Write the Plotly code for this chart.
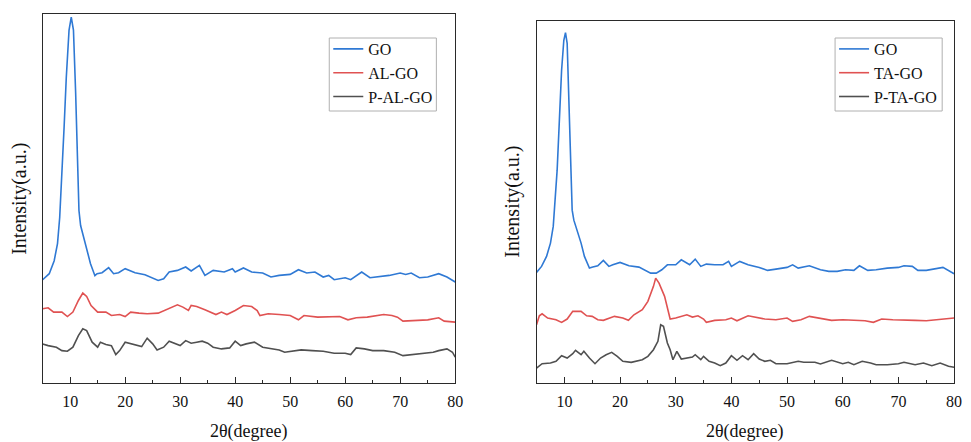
import plotly.graph_objects as go

# ---------------- Left panel (GO / AL-GO / P-AL-GO) ----------------
L_GO_x = [5, 6.2, 7.1, 7.7, 8.1, 8.5, 8.9, 9.3, 9.8, 10.2, 10.6, 11.0, 11.4, 11.6, 11.9, 12.5,
          13.1, 13.7, 14.5, 14.9, 15.8, 17.0, 17.9, 18.8, 20.0, 21.8, 23.6, 25.7, 26, 27, 28,
          29.5, 31, 32, 33.5, 34.5, 36, 38, 39.5, 40, 41.5, 43, 45, 46.5, 48, 50, 51.5, 53,
          54.5, 56, 57, 58, 60, 61, 63, 64.5, 66, 68, 70, 71, 72, 73.5, 75, 77, 78.5, 80]
L_GO_y = [103, 109, 122, 139, 165, 205, 255, 305, 352, 365, 352, 289, 222, 172, 157, 145,
          132, 119, 107, 109, 110, 115, 109, 110, 114, 110, 108, 103, 102.3, 104, 110.7,
          112.3, 115.7, 111.7, 117.3, 107.3, 112.3, 110.7, 114, 110.7, 114.7, 110.7, 109.7,
          105.7, 107.3, 108.3, 113, 109.7, 110.7, 105.7, 107.3, 103, 105, 103, 110.7, 105,
          105.7, 107.3, 109.7, 108.3, 109.7, 105, 105.7, 109, 105.7, 100.7]

L_AL_x = [5, 6, 7, 8.5, 9.5, 10.5, 11.5, 12.3, 13, 13.8, 15, 16.5, 17.5, 19, 20, 21, 22.5, 24,
          26, 28, 29.5, 30.5, 31.5, 32, 33, 34.5, 35.5, 36.5, 37.5, 38.5, 40, 41.5, 43, 44,
          44.5, 46, 48, 50, 51.5, 52.5, 55, 57.5, 59, 60.5, 62, 64, 66, 67, 68.5, 69.5, 70.5,
          72, 75, 77, 78, 80]
L_AL_y = [74, 75, 70.7, 70.7, 66.3, 70.7, 82.3, 89.7, 86.3, 77.3, 70.7, 70.7, 67.3, 68.3,
          66.3, 70.7, 69.7, 69, 69.7, 74, 78, 75.7, 72.3, 77.3, 76.3, 73, 70.7, 68.3, 70.7,
          68.3, 72.3, 77.3, 76.3, 72.3, 67.3, 69, 68.3, 67.3, 63, 67.3, 65.7, 65.7, 66.3, 63,
          65, 65.7, 67.3, 68.3, 67.3, 65.7, 61.7, 62.3, 63, 65, 61.7, 60.7]

L_PAL_x = [5, 6, 7.5, 8.5, 9.5, 10.5, 11.5, 12.3, 13, 14, 15, 15.5, 16.5, 17.5, 18.3, 19, 20,
           21, 22, 23, 24, 25, 25.8, 27, 28, 29, 30, 31, 32, 33, 34, 35, 36, 37.5, 39, 40, 41,
           42, 43.5, 45, 46.5, 48, 49, 50, 52, 54, 56, 58, 60, 61, 62, 63.5, 65, 67, 69, 70.5,
           72, 74, 76, 77, 78.5, 79.5, 80]
L_PAL_y = [39, 37.3, 35.7, 32.3, 31.7, 35.7, 47.3, 54, 52.3, 40.7, 35.7, 40.7, 38.3, 37.3,
           28.3, 32.3, 40.7, 39, 37.3, 36.3, 44.7, 39, 33, 35.7, 41.7, 39.7, 37.3, 42.3, 39.7,
           40.7, 41.7, 39.7, 35.7, 34, 35, 41.7, 37.3, 39, 40.7, 35.7, 34, 33, 30.7, 31.7, 33,
           32.3, 31.7, 29.7, 29.7, 28.3, 35, 34, 32.3, 32.3, 30.7, 27.3, 28.3, 29, 30.7, 32.3,
           34, 30.7, 25.7]

# ---------------- Right panel (GO / TA-GO / P-TA-GO) ----------------
R_GO_x = [5, 5.9, 6.8, 7.5, 8.0, 8.3, 8.7, 9.1, 9.5, 9.9, 10.2, 10.5, 10.8, 11.2, 11.4, 11.7,
          12.3, 13.0, 13.6, 14.5, 15.1, 16.0, 17.0, 18.0, 18.7, 20.0, 21.6, 23.4, 25.5, 26.5,
          27.5, 28.5, 30, 31, 32.5, 33.5, 34.5, 35.5, 37, 38.5, 39.5, 40, 41.5, 43, 45, 46.5,
          48, 50, 51, 52, 54, 56, 57.5, 59, 60.5, 62, 63, 64.5, 66, 68, 70, 71, 72.5, 73.5,
          75, 77, 78, 80]
R_GO_y = [110.7, 116.7, 126.7, 140, 156.7, 180, 213, 263, 313, 343, 350.6, 340, 280, 213, 173,
          163, 153, 140, 126.7, 115, 116, 117.3, 122.7, 116.7, 118.3, 120.7, 117.3, 116, 110,
          110, 113.3, 118.3, 118.3, 123.3, 118.3, 124, 116.7, 119, 118.3, 118.3, 121.7, 116.7,
          121.7, 118.3, 115.7, 112.7, 114, 115.7, 118.3, 115, 117.3, 113.3, 111.7, 111.7,
          113.3, 112.7, 117.3, 112.7, 113.3, 115, 115.7, 117.3, 116.7, 112.7, 112.7, 115,
          115.7, 109.3]

R_TA_x = [5, 5.5, 6, 7, 8.5, 9.5, 10.5, 11.5, 13, 14, 15, 16, 17, 18, 19, 20.5, 21.5, 22.5,
          24, 25, 26, 26.4, 27, 28, 28.6, 29, 30, 31, 32, 33, 34, 35, 35.5, 37, 39, 40, 41,
          43, 44, 46, 48, 50, 51, 52.5, 54, 56, 58, 60, 62, 64, 65.5, 67, 69, 71, 73, 75, 77,
          78, 80]
R_TA_y = [58.3, 67.3, 69.3, 65, 63.3, 60.7, 64, 71.7, 71.7, 67.3, 66.7, 63.3, 62.7, 65, 66.7,
          65, 62.7, 68.3, 73.3, 81.7, 96.7, 105, 100, 86.7, 71.7, 64, 65, 66.7, 68.3, 66, 67.3,
          64, 60.7, 62.7, 63.3, 65, 62.3, 67.3, 66, 64, 63.3, 65, 61.7, 63.3, 66.7, 65, 62.7,
          63.3, 62.7, 62.3, 60.7, 64, 63.3, 62.7, 62.7, 62.3, 63.3, 64, 65]

R_PTA_x = [5, 6, 7.5, 8.5, 9.5, 10.5, 11.5, 12, 13, 13.5, 14.5, 15.5, 16.5, 17.5, 18.5, 19.5,
           20.5, 22, 24, 25, 26, 26.8, 27.3, 27.8, 28.5, 29, 29.5, 30.2, 31, 32, 33, 33.5,
           34.5, 35, 36, 37, 38, 39, 40, 41, 42, 43, 44, 45, 46, 47, 48, 50, 52, 53, 55, 56,
           58, 60, 61, 62, 63.5, 65, 66, 68, 70, 71, 73, 74.5, 76, 77.5, 79, 80]
R_PTA_y = [15, 19.3, 20, 21.7, 27.3, 25, 29.3, 32.7, 28.3, 31.7, 25, 19.3, 25, 28.3, 30.7,
           26.7, 21.7, 20.7, 23.3, 26.7, 33.3, 41.7, 58.3, 56.7, 40, 33.3, 23.3, 31.7, 24, 25,
           26, 28.3, 23.3, 26.7, 21.7, 20, 17.3, 20, 27.3, 22.7, 27.3, 23.3, 29.3, 24, 21.7,
           22.7, 19.3, 19.3, 21.7, 20.7, 20.7, 19, 22.7, 19.3, 20.7, 18.3, 21.7, 20, 18.3,
           18.3, 19.3, 20.7, 18.3, 20, 17.3, 20, 16.7, 15.7]

X_TICKS = [10, 20, 30, 40, 50, 60, 70, 80]
X_MINOR = [15, 25, 35, 45, 55, 65, 75]
LEFT_NAMES = ["GO", "AL-GO", "P-AL-GO"]
RIGHT_NAMES = ["GO", "TA-GO", "P-TA-GO"]
COLORS = ["#2f79d4", "#e05252", "#505050"]

FONT = "Liberation Serif, Times New Roman, serif"
W, H = 971, 442

fig = go.Figure()

left = [(L_GO_x, L_GO_y), (L_AL_x, L_AL_y), (L_PAL_x, L_PAL_y)]
right = [(R_GO_x, R_GO_y), (R_TA_x, R_TA_y), (R_PTA_x, R_PTA_y)]

for (xs, ys), name, c in zip(left, LEFT_NAMES, COLORS):
    fig.add_trace(go.Scatter(x=xs, y=ys, mode="lines", name=name,
                             line=dict(color=c, width=1.6), xaxis="x", yaxis="y",
                             legend="legend"))
for (xs, ys), name, c in zip(right, RIGHT_NAMES, COLORS):
    fig.add_trace(go.Scatter(x=xs, y=ys, mode="lines", name=name,
                             line=dict(color=c, width=1.6), xaxis="x2", yaxis="y2",
                             legend="legend2"))


def px_x(p):
    return p / W


def px_y(p):
    return 1 - p / H


axis_line = dict(showline=True, linecolor="#2a2a2a", linewidth=1.4, mirror=True,
                 showgrid=False, zeroline=False)

xcommon = dict(range=[5, 80], tickvals=X_TICKS, ticks="inside", ticklen=6, tickwidth=1.2,
               tickcolor="#2a2a2a", ticklabelstandoff=4,
               minor=dict(ticks="inside", ticklen=3, tickwidth=1.2, tickcolor="#2a2a2a",
                          tickvals=X_MINOR),
               tickfont=dict(family=FONT, size=16, color="#111"), **axis_line)
ycommon = dict(showticklabels=False, ticks="", **axis_line)

legend_common = dict(bgcolor="rgba(255,255,255,0)", borderwidth=0,
                     font=dict(family=FONT, size=16, color="#111"), xanchor="left",
                     yanchor="top", itemwidth=30, tracegroupgap=0)

title_font = dict(family=FONT, size=18, color="#111")
ytitle_font = dict(family=FONT, size=20, color="#111")

# legend frames (drawn as thin grey boxes like the original)
legend_boxes = [(332, 440, 38, 111), (842, 950, 38, 111)]
shapes = [dict(type="rect", xref="paper", yref="paper",
               x0=px_x(x0), x1=px_x(x1), y0=px_y(y1), y1=px_y(y0),
               line=dict(color="#b0b0b0", width=1), fillcolor="rgba(0,0,0,0)", layer="above")
          for (x0, x1, y0, y1) in legend_boxes]

fig.update_layout(
    width=W, height=H,
    margin=dict(l=0, r=0, t=0, b=0),
    paper_bgcolor="white", plot_bgcolor="white",
    xaxis=dict(domain=[px_x(43), px_x(459)], anchor="y", **xcommon),
    yaxis=dict(domain=[px_y(383), px_y(14)], anchor="x", range=[0, 368], **ycommon),
    xaxis2=dict(domain=[px_x(541), px_x(962)], anchor="y2", **xcommon),
    yaxis2=dict(domain=[px_y(383), px_y(21)], anchor="x2", range=[0, 362.3], **ycommon),
    legend=dict(x=px_x(331), y=px_y(32), **legend_common),
    legend2=dict(x=px_x(841), y=px_y(32), **legend_common),
    showlegend=True,
    shapes=shapes,
    annotations=[
        dict(text="2θ(degree)", xref="paper", yref="paper", x=px_x(251), y=px_y(431),
             showarrow=False, font=title_font, xanchor="center", yanchor="middle"),
        dict(text="2θ(degree)", xref="paper", yref="paper", x=px_x(751.5), y=px_y(431),
             showarrow=False, font=title_font, xanchor="center", yanchor="middle"),
        dict(text="Intensity(a.u.)", xref="paper", yref="paper", x=px_x(20), y=px_y(199),
             showarrow=False, textangle=-90, font=ytitle_font,
             xanchor="center", yanchor="middle"),
        dict(text="Intensity(a.u.)", xref="paper", yref="paper", x=px_x(517), y=px_y(202),
             showarrow=False, textangle=-90, font=ytitle_font,
             xanchor="center", yanchor="middle"),
    ],
)

# remove the browser's default 8px page margin so the figure fills the window exactly
fig.write_html("out.html", config={"displayModeBar": False},
               post_script="document.body.style.margin='0';document.body.style.overflow='hidden';")
